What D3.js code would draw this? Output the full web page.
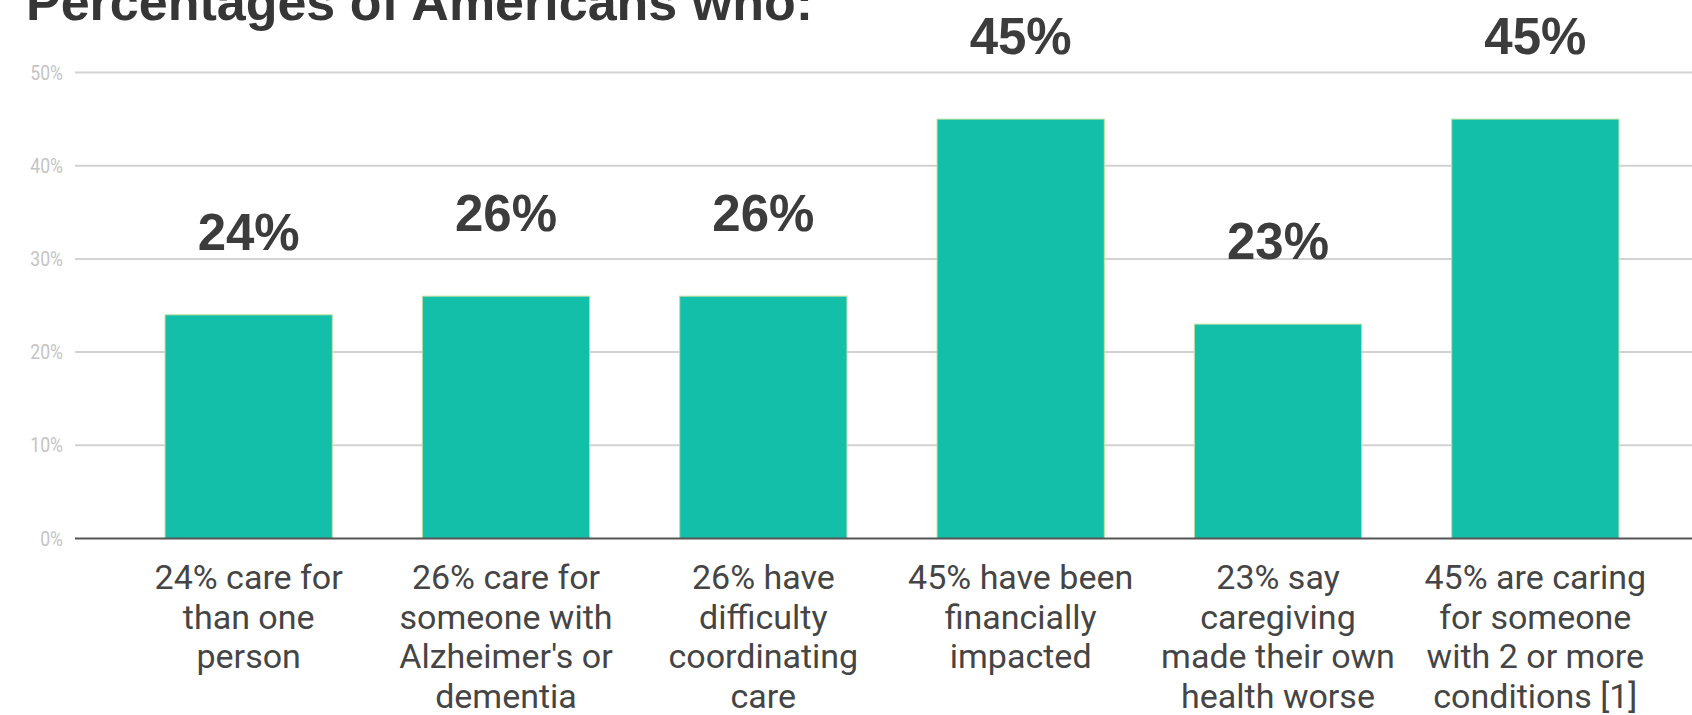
<!DOCTYPE html>
<html>
<head>
<meta charset="utf-8">
<script src="https://cdn.jsdelivr.net/npm/d3@7"></script>
<style>
  html, body { margin: 0; padding: 0; background: #fff; }
  svg { display: block; }
</style>
</head>
<body>
<div id="chart"></div>
<script>
const titleText = "Percentages of Americans who:";
const categories = ["care-multi", "alzheimers", "coordinating", "financial", "health", "conditions"];
const categoryLines = [
  ["24% care for", "than one", "person"],
  ["26% care for", "someone with", "Alzheimer's or", "dementia"],
  ["26% have", "difficulty", "coordinating", "care"],
  ["45% have been", "financially", "impacted"],
  ["23% say", "caregiving", "made their own", "health worse"],
  ["45% are caring", "for someone", "with 2 or more", "conditions [1]"]
];
const values = [24, 26, 26, 45, 23, 45];
const yTicks = [0, 10, 20, 30, 40, 50];

const width = 1692, height = 715;
const gridLeft = 75, gridRight = 1692;

const svg = d3.select("#chart")
  .append("svg")
  .attr("width", width)
  .attr("height", height);

const x = d3.scaleBand()
  .domain(categories)
  .range([120, 1664])
  .paddingInner(0.35)
  .paddingOuter(0.175);

const y = d3.scaleLinear()
  .domain([0, 50])
  .range([538.5, 72.5]);

// title, cut off at the top like the source
svg.append("text")
  .attr("x", 26)
  .attr("y", 20)
  .attr("font-family", "'Liberation Sans', Arial, sans-serif")
  .attr("font-weight", "bold")
  .attr("font-size", 52)
  .attr("fill", "#363636")
  .text(titleText);

// gridlines + tick labels
const grid = svg.append("g");
grid.selectAll("line")
  .data(yTicks.filter((d) => d > 0))
  .enter()
  .append("line")
  .attr("x1", gridLeft)
  .attr("x2", gridRight)
  .attr("y1", (d) => y(d))
  .attr("y2", (d) => y(d))
  .attr("stroke", "#d2d2d2")
  .attr("stroke-width", 2);

grid.selectAll("text")
  .data(yTicks)
  .enter()
  .append("text")
  .attr("transform", (d) => `translate(63,${y(d) + 7}) scale(0.88,1)`)
  .attr("text-anchor", "end")
  .attr("font-family", "Roboto, sans-serif")
  .attr("font-size", 20)
  .attr("fill", "#c4c4c4")
  .text((d) => d + "%");

// bars
svg.append("g")
  .selectAll("rect")
  .data(values)
  .enter()
  .append("rect")
  .attr("x", (d, i) => x(categories[i]))
  .attr("y", (d) => y(d))
  .attr("width", x.bandwidth())
  .attr("height", (d) => y(0) - y(d))
  .attr("fill", "#13bfa8")
  .attr("stroke", "#bfe0a0")
  .attr("stroke-width", 1);

// baseline
svg.append("line")
  .attr("x1", gridLeft)
  .attr("x2", gridRight)
  .attr("y1", y(0))
  .attr("y2", y(0))
  .attr("stroke", "#555")
  .attr("stroke-width", 2);

// value labels
svg.append("g")
  .selectAll("text")
  .data(values)
  .enter()
  .append("text")
  .attr("x", (d, i) => x(categories[i]) + x.bandwidth() / 2)
  .attr("y", (d) => y(d) - 65)
  .attr("text-anchor", "middle")
  .attr("font-family", "'Liberation Sans', Arial, sans-serif")
  .attr("font-weight", "bold")
  .attr("font-size", 51)
  .attr("fill", "#3c3c3c")
  .text((d) => d + "%");

// category labels
const labels = svg.append("g")
  .selectAll("g")
  .data(categoryLines)
  .enter()
  .append("g")
  .attr("transform", (d, i) => `translate(${x(categories[i]) + x.bandwidth() / 2},0)`);

labels.selectAll("text")
  .data((d) => d)
  .enter()
  .append("text")
  .attr("x", 0)
  .attr("y", (d, j) => 589 + j * 39.6)
  .attr("text-anchor", "middle")
  .attr("font-family", "Roboto, sans-serif")
  .attr("font-size", 34)
  .attr("fill", "#454545")
  .text((d) => d);
</script>
</body>
</html>
